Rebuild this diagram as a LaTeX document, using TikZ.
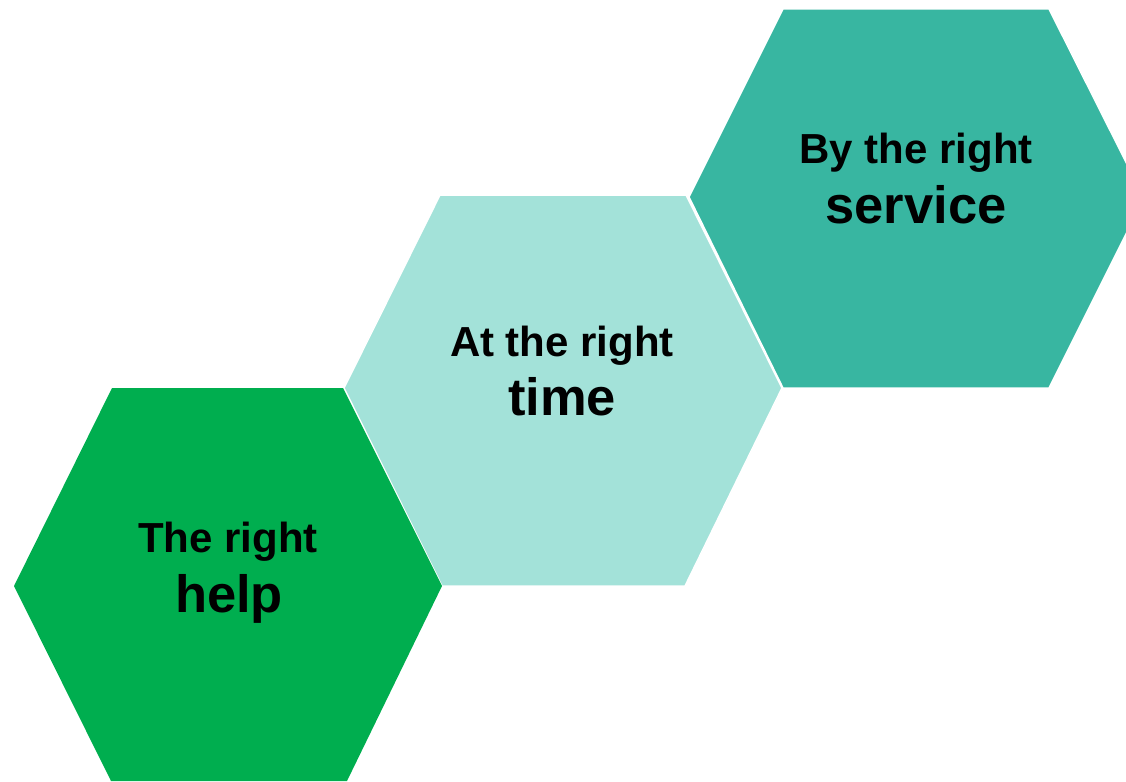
\documentclass[tikz,border=0pt]{standalone}
\usepackage{fontspec}
\setmainfont{Liberation Sans}
\definecolor{hexgreen}{HTML}{00AE4F}
\definecolor{hexlight}{HTML}{A3E2D9}
\definecolor{hexteal}{HTML}{38B6A1}
\tikzset{
  hexfill/.style={draw=white, line width=1.5pt, line join=miter},
  smalltxt/.style={anchor=base, inner sep=0pt, font=\fontsize{42}{48}\selectfont\bfseries},
  bigtxt/.style={anchor=base, inner sep=0pt, font=\fontsize{52.5}{60}\selectfont\bfseries}
}
\begin{document}
\begin{tikzpicture}[x=1pt, y=-1pt]
\useasboundingbox (0,0) rectangle (1126,781);
\clip (0,0) rectangle (1126,781);
% hexagon 3 (top right)
\fill[hexteal, hexfill] (783,9) -- (1049,9) -- (1144,198) -- (1049,388) -- (783,388) -- (689,197) -- cycle;
% hexagon 2 (middle)
\fill[hexlight, hexfill] (440,195) -- (686,195) -- (782,388) -- (685,586) -- (442,586) -- (344,388) -- cycle;
% hexagon 1 (bottom left)
\fill[hexgreen] (112,388) -- (343,388) -- (442,586) -- (347,781) -- (111,781) -- (14,586) -- cycle;
% texts
\node[smalltxt] (h1a) at (228,552) {The right};
\node[bigtxt]   (h1b) at (229,612) {help};
\node[smalltxt] (h2a) at (562,356) {At the right};
\node[bigtxt]   (h2b) at (562,415) {time};
\node[smalltxt] (h3a) at (916,163) {By the right};
\node[bigtxt]   (h3b) at (916,223) {service};
\end{tikzpicture}
\end{document}
